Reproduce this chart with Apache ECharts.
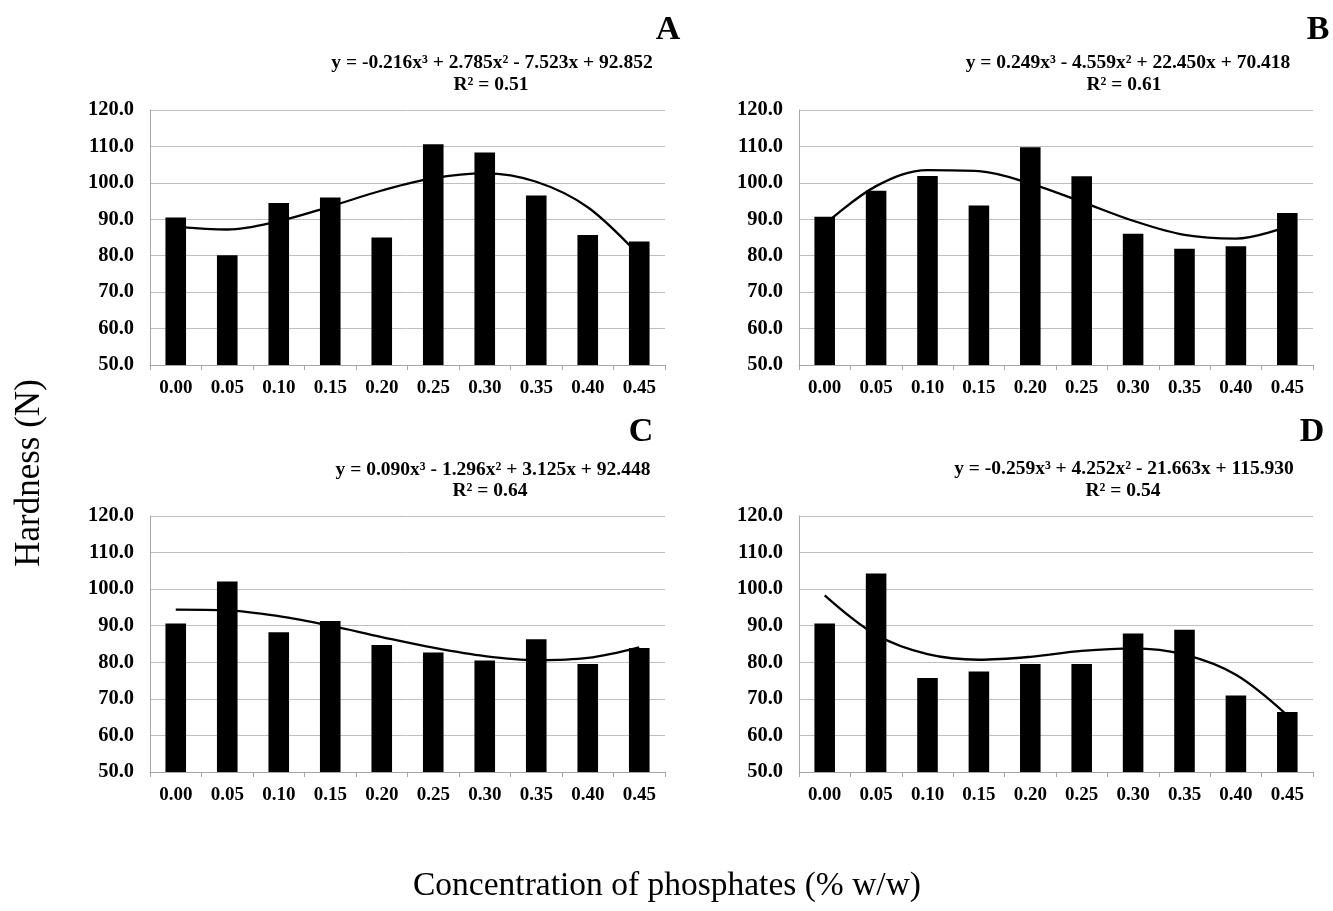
<!DOCTYPE html>
<html><head><meta charset="utf-8">
<script src="https://cdn.jsdelivr.net/npm/echarts@6/dist/echarts.min.js"></script>
<style>html,body{margin:0;padding:0;background:#fff}#c{width:1333px;height:911px}</style>
</head><body><div id="c"></div><script>
// ---- data ----
const categories = ['0.00','0.05','0.10','0.15','0.20','0.25','0.30','0.35','0.40','0.45'];
const yMin = 50, yMax = 120, yStep = 10;

const barsA = [90.5, 80.1, 94.5, 96.0, 85.0, 110.6, 108.3, 96.5, 85.7, 83.9];
const barsB = [90.7, 97.8, 101.9, 93.8, 109.8, 101.8, 86.0, 81.9, 82.6, 91.7];
const barsC = [90.6, 102.1, 88.2, 91.3, 84.7, 82.7, 80.5, 86.3, 79.5, 83.9];
const barsD = [90.6, 104.3, 75.7, 77.5, 79.5, 79.5, 87.9, 88.9, 70.9, 66.4];

const trendA = [87.9, 87.2, 89.5, 93.5, 97.9, 101.3, 102.6, 100.3, 93.3, 80.1];
const trendB = [88.6, 99.1, 103.5, 103.2, 99.8, 94.8, 89.6, 85.7, 84.7, 88.0];
const trendC = [94.4, 94.2, 92.6, 90.0, 86.9, 84.0, 81.7, 80.6, 81.2, 84.1];
const trendD = [98.3, 87.5, 82.2, 80.7, 81.5, 83.1, 83.8, 82.1, 76.6, 65.5];

const panelLetters = ['A','B','C','D'];
const equations = [
  'y = -0.216x³ + 2.785x² - 7.523x + 92.852',
  'y = 0.249x³ - 4.559x² + 22.450x + 70.418',
  'y = 0.090x³ - 1.296x² + 3.125x + 92.448',
  'y = -0.259x³ + 4.252x² - 21.663x + 115.930'
];
const r2Labels = ['R² = 0.51','R² = 0.61','R² = 0.64','R² = 0.54'];
const yTitle = 'Hardness (N)';
const xTitle = 'Concentration of phosphates (% w/w)';

// ---- layout ----
const FONT = '"Liberation Serif", "Times New Roman", serif';
const grids = [
  {left:150, top:110, width:515, height:255},
  {left:799, top:110, width:514, height:255},
  {left:150, top:516, width:515, height:256},
  {left:799, top:516, width:514, height:256}
];
const letterPos = [[668,30],[1318,30],[641,432],[1312,432]];
const eqPos = [[492,63,491,85],[1128,63,1124,85],[493,470,490,491],[1124,469,1123,491]];

const bars = [barsA, barsB, barsC, barsD];
const trends = [trendA, trendB, trendC, trendD];

const xAxes = [], yAxes = [], series = [], graphics = [];
grids.forEach((g, i) => {
  xAxes.push({
    type:'category', gridIndex:i, data:categories,
    axisLine:{lineStyle:{color:'#a6a6a6', width:1}},
    axisTick:{show:true, length:5, lineStyle:{color:'#a6a6a6'}},
    axisLabel:{color:'#000', fontFamily:FONT, fontWeight:'bold', fontSize:19, margin:14, interval:0},
    splitLine:{show:false}
  });
  yAxes.push({
    type:'value', gridIndex:i, min:yMin, max:yMax, interval:yStep,
    axisLine:{show:true, lineStyle:{color:'#a6a6a6', width:1}},
    axisTick:{show:false},
    axisLabel:{color:'#000', fontFamily:FONT, fontWeight:'bold', fontSize:20.5, margin:16,
      formatter:v => v.toFixed(1)},
    splitLine:{show:true, lineStyle:{color:'#bfbfbf', width:1}}
  });
  series.push({
    type:'line', xAxisIndex:i, yAxisIndex:i, data:trends[i], smooth:0.35,
    symbol:'none', lineStyle:{color:'#000', width:2.3}, z:2, silent:true
  });
  series.push({
    type:'bar', xAxisIndex:i, yAxisIndex:i, data:bars[i], barWidth:'40%',
    itemStyle:{color:'#000'}, z:3, silent:true
  });
  graphics.push({type:'text', x:letterPos[i][0], y:letterPos[i][1],
    style:{text:panelLetters[i], font:'bold 34px '+FONT, fill:'#000', align:'center', verticalAlign:'middle'}});
  graphics.push({type:'text', x:eqPos[i][0], y:eqPos[i][1],
    style:{text:equations[i], font:'bold 19.5px '+FONT, fill:'#000', align:'center', verticalAlign:'middle'}});
  graphics.push({type:'text', x:eqPos[i][2], y:eqPos[i][3],
    style:{text:r2Labels[i], font:'bold 19.5px '+FONT, fill:'#000', align:'center', verticalAlign:'middle'}});
});
graphics.push({type:'text', x:30, y:473, rotation:Math.PI/2,
  style:{text:yTitle, font:'35px '+FONT, fill:'#000', align:'center', verticalAlign:'middle'}});
graphics.push({type:'text', x:667, y:886,
  style:{text:xTitle, font:'33.5px '+FONT, fill:'#000', align:'center', verticalAlign:'middle'}});

const chart = echarts.init(document.getElementById('c'), null, {renderer:'canvas'});
chart.setOption({
  animation:false,
  backgroundColor:'#fff',
  grid: grids,
  xAxis: xAxes,
  yAxis: yAxes,
  series: series,
  graphic: graphics
});
</script></body></html>
